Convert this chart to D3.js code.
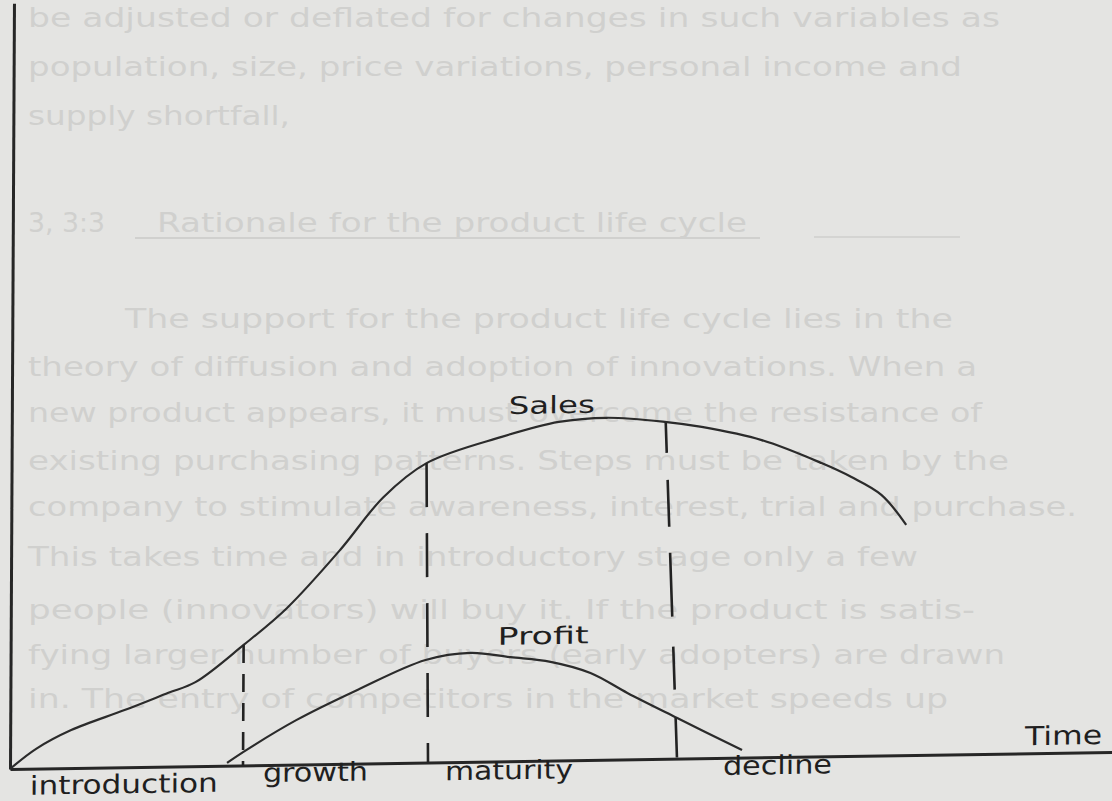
<!DOCTYPE html>
<html>
<head>
<meta charset="utf-8">
<script src="https://cdn.jsdelivr.net/npm/d3@7"></script>
<style>
html, body { margin: 0; padding: 0; background: #e4e4e2; overflow: hidden; }
svg { display: block; }
</style>
</head>
<body>
<script>
// product life cycle (time units, sales units)
let salesT = [0, 2.6, 6.1, 11.5, 15.8, 18.5, 23.3, 27.6, 32.9, 37.2, 41.5, 49, 54.7, 59.5, 65.3, 69, 75, 81, 84, 87, 89.5];
let salesV = [0, 5.2, 10, 15.1, 19.4, 22.1, 31.7, 41.2, 56.3, 70, 78.8, 85.4, 89.1, 90, 88.7, 87.2, 83.5, 77.2, 73.4, 68.6, 60.6];

let profitT = [21.7, 23.3, 28.6, 34.7, 41.5, 46, 50, 54, 58, 61.7, 66.7, 73.2];
let profitV = [0.7, 3.5, 11.7, 19.4, 27.0, 28.7, 27.4, 26.0, 22.9, 17.5, 10.7, 2.0];

// stage boundaries (dashed): time at top, time at bottom, sales value at top
let stageTopT = [23.3, 41.5, 65.4];
let stageBotT = [23.3, 41.8, 66.7];
let stageTopV = [31.7, 78.8, 88.4];

let stageNames = ["introduction", "growth", "maturity", "decline"];
let stageLabelT = [2, 25.3, 43.5, 71.3];

// faint text showing through from the other side of the page
let bgText = [
  "be adjusted or deflated for changes in such variables as",
  "population, size, price variations, personal income and",
  "supply shortfall,",
  "3, 3:3",
  "Rationale for the product life cycle",
  "The support for the product life cycle lies in the",
  "theory of diffusion and adoption of innovations.  When a",
  "new product appears, it must overcome the resistance of",
  "existing purchasing patterns.  Steps must be taken by the",
  "company to stimulate awareness, interest, trial and purchase.",
  "This takes time and in introductory stage only a few",
  "people (innovators) will buy it.  If the product is satis-",
  "fying larger number of buyers (early adopters) are drawn",
  "in.  The entry of competitors in the market speeds up"
];

let W = 1112, H = 801;
let origin = {x: 10, y: 769};

let svg = d3.select("body").append("svg").attr("width", W).attr("height", H);
svg.append("rect").attr("width", W).attr("height", H).attr("fill", "#e4e4e2");

// background text layer
let bgLayout = [
  [28, 27, 972], [28, 76, 934], [28, 125, 262], [28, 232, 77], [157, 232, 590],
  [125, 328, 828], [28, 376, 949], [28, 422, 954], [28, 470, 981], [28, 516, 1049],
  [28, 566, 890], [28, 619, 947], [28, 664, 977], [28, 708, 920]
];
let bg = svg.append("g").attr("fill", "#d0d0ce").style("font-family", "'DejaVu Sans', sans-serif").style("font-size", "26px");
bg.selectAll("text").data(bgText).enter().append("text")
  .attr("x", (d, i) => bgLayout[i][0])
  .attr("y", (d, i) => bgLayout[i][1])
  .attr("textLength", (d, i) => bgLayout[i][2])
  .attr("lengthAdjust", "spacingAndGlyphs")
  .text(d => d);
bg.append("line").attr("x1", 135).attr("x2", 760).attr("y1", 238).attr("y2", 238).attr("stroke", "#d0d0ce").attr("stroke-width", 2);
bg.append("line").attr("x1", 814).attr("x2", 960).attr("y1", 237).attr("y2", 237).attr("stroke", "#d4d4d2").attr("stroke-width", 2);

// the hand drawn axes are a bit out of square, so skew the plot a little
let chart = svg.append("g")
  .attr("transform", "translate(" + origin.x + "," + origin.y + ") matrix(1,-0.0155,-0.0052,1,0,0)");

let x = d3.scaleLinear().domain([0, 110.2]).range([0, 1102]);
let y = d3.scaleLinear().domain([0, 201.5]).range([0, -765.7]);

let xAxis = d3.axisBottom(x).tickValues([]).tickSizeOuter(0);
let yAxis = d3.axisLeft(y).tickValues([]).tickSizeOuter(0);

chart.append("g").attr("class", "x axis").call(xAxis);
chart.append("g").attr("class", "y axis").call(yAxis);
chart.selectAll(".axis path").attr("stroke", "#262626").attr("stroke-width", 3);

let line = d3.line()
  .x(d => x(d[0]))
  .y(d => y(d[1]))
  .curve(d3.curveCatmullRom.alpha(0.5));

let sales = salesT.map((t, i) => [t, salesV[i]]);
let profit = profitT.map((t, i) => [t, profitV[i]]);

chart.append("path").datum(sales).attr("d", line)
  .attr("fill", "none").attr("stroke", "#2b2b2b").attr("stroke-width", 2.2);
chart.append("path").datum(profit).attr("d", line)
  .attr("fill", "none").attr("stroke", "#2b2b2b").attr("stroke-width", 2.2);

let dashes = ["18,11", "44,26", "30,27,47,26,64,30,43,28,40"];
chart.selectAll("line.stage").data(stageTopT).enter().append("line")
  .attr("class", "stage")
  .attr("x1", (d, i) => x(d))
  .attr("y1", (d, i) => y(stageTopV[i]))
  .attr("x2", (d, i) => x(stageBotT[i]))
  .attr("y2", y(0))
  .attr("stroke", "#222")
  .attr("stroke-width", 2.6)
  .attr("stroke-dasharray", (d, i) => dashes[i]);

// labels
let labels = chart.append("g").attr("fill", "#1f1f1f")
  .style("font-family", "'DejaVu Sans', sans-serif");

let stageDy = [26, 17, 18, 17];
let stageW = [188, 105, 128, 109];
labels.selectAll("text.stage").data(stageNames).enter().append("text")
  .attr("class", "stage")
  .attr("x", (d, i) => x(stageLabelT[i]) - x(0))
  .attr("y", (d, i) => y(0) + stageDy[i])
  .attr("textLength", (d, i) => stageW[i])
  .attr("lengthAdjust", "spacingAndGlyphs")
  .style("font-size", "26px")
  .text(d => d);

labels.append("text").attr("x", x(49.7)).attr("y", y(91.4))
  .attr("textLength", 86).attr("lengthAdjust", "spacingAndGlyphs")
  .style("font-size", "24px").text("Sales");
labels.append("text").attr("x", x(48.7)).attr("y", y(30.7))
  .attr("textLength", 91).attr("lengthAdjust", "spacingAndGlyphs")
  .style("font-size", "24px").text("Profit");
labels.append("text").attr("x", x(101.5)).attr("y", y(0) - 8)
  .attr("textLength", 77).attr("lengthAdjust", "spacingAndGlyphs")
  .style("font-size", "26px").text("Time");
</script>
</body>
</html>
